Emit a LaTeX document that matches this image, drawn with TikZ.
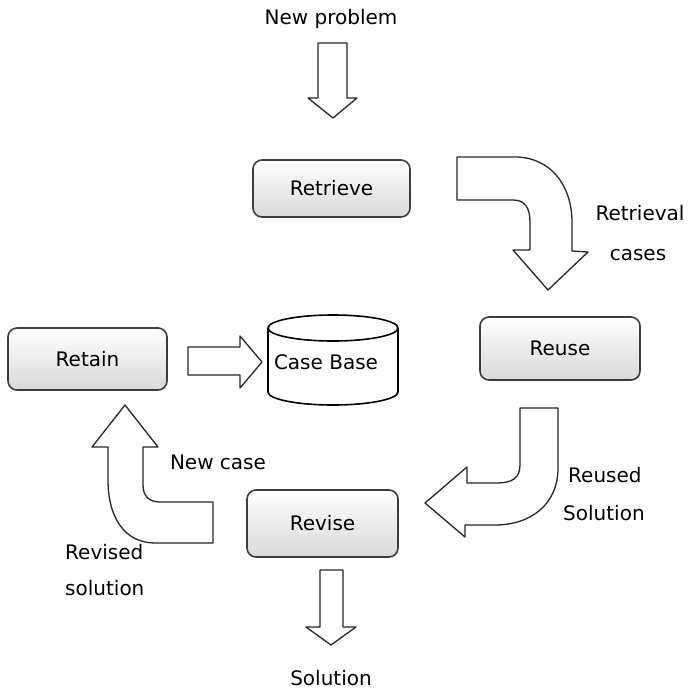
\documentclass[tikz,border=0pt]{standalone}
\usepackage{fontspec}
\setmainfont{DejaVu Sans}
\usetikzlibrary{positioning}
\definecolor{boxedge}{RGB}{60,60,60}
\begin{document}
\begin{tikzpicture}[x=1pt, y=-1pt,
  stage/.style={rectangle, rounded corners=9pt, draw=boxedge, line width=1.6pt,
                top color=white, bottom color=gray!30, font=\fontsize{20}{24}\selectfont,
                inner sep=0pt},
  blockarr/.style={draw=black!85, fill=white, line width=1.3pt, line join=round},
  lbl/.style={font=\fontsize{20}{24}\selectfont, inner sep=0pt, align=center},
]
\useasboundingbox (0,0) rectangle (689,691);
% process stages
\node[stage, minimum width=157pt, minimum height=57pt] (retrieve) at (331.5,188.5) {Retrieve};
\node[stage, minimum width=160pt, minimum height=63pt] (reuse)    at (560,348.5) {Reuse};
\node[stage, minimum width=151pt, minimum height=67pt] (revise)   at (322.5,523.5) {Revise};
\node[stage, minimum width=159pt, minimum height=62pt] (retain)   at (87.5,359) {Retain};
% case base
\draw[blockarr, draw=black, line width=1.6pt] (268,328) -- (268,392)
  arc[start angle=180, end angle=360, x radius=65pt, y radius=13pt] -- (398,328);
\draw[blockarr, draw=black, line width=1.6pt] (333,328) ellipse[x radius=65pt, y radius=13pt];
\node[lbl] (casebase) at (326,362) {Case Base};
% straight block arrows
\draw[blockarr] (318,43) -- (347,43) -- (347,98) -- (357,98) -- (333,118)
  -- (308,98) -- (318,98) -- cycle;
\draw[blockarr] (320,570) -- (343,570) -- (343,627) -- (356,627) -- (331,645)
  -- (306,627) -- (320,627) -- cycle;
\draw[blockarr] (188,347) -- (240,347) -- (240,336) -- (262,362) -- (240,388)
  -- (240,375) -- (188,375) -- cycle;
% curved block arrows
\draw[blockarr] (457,157) -- (515,157) .. controls (550,157) and (572,185) .. (572,222)
  -- (572,251) -- (588,252) -- (548,290) -- (513,250) -- (530,250) -- (530,222)
  .. controls (530,208) and (525,200) .. (513,200) -- (457,200) -- cycle;
\draw[blockarr] (520,408) -- (558,408) -- (558,468) .. controls (558,505) and (530,525) .. (495,525)
  -- (465,525) -- (465,537) -- (425,503) -- (467,467) -- (467,483) -- (497,483)
  .. controls (512,483) and (520,478) .. (520,465) -- cycle;
\draw[blockarr] (213,502) -- (160,502) .. controls (149,502) and (143,496) .. (143,485)
  -- (143,447) -- (158,447) -- (125,405) -- (92,447) -- (108,447) -- (108,480)
  .. controls (108,518) and (125,543) .. (155,543) -- (213,543) -- cycle;
% labels
\node[lbl] (newproblem) at (331,19) {New problem};
\node[lbl] (retrieval) at (640,213) {Retrieval};
\node[lbl] (cases) at (638,255) {cases};
\node[lbl, anchor=west] (reused) at (568,475) {Reused};
\node[lbl, anchor=west] (reusedsol) at (563,513) {Solution};
\node[lbl] (newcase) at (218,462) {New case};
\node[lbl, anchor=west] (revised) at (65,552) {Revised};
\node[lbl, anchor=west] (revisedsol) at (65,588) {solution};
\node[lbl] (solution) at (331,678) {Solution};
\end{tikzpicture}
\end{document}
